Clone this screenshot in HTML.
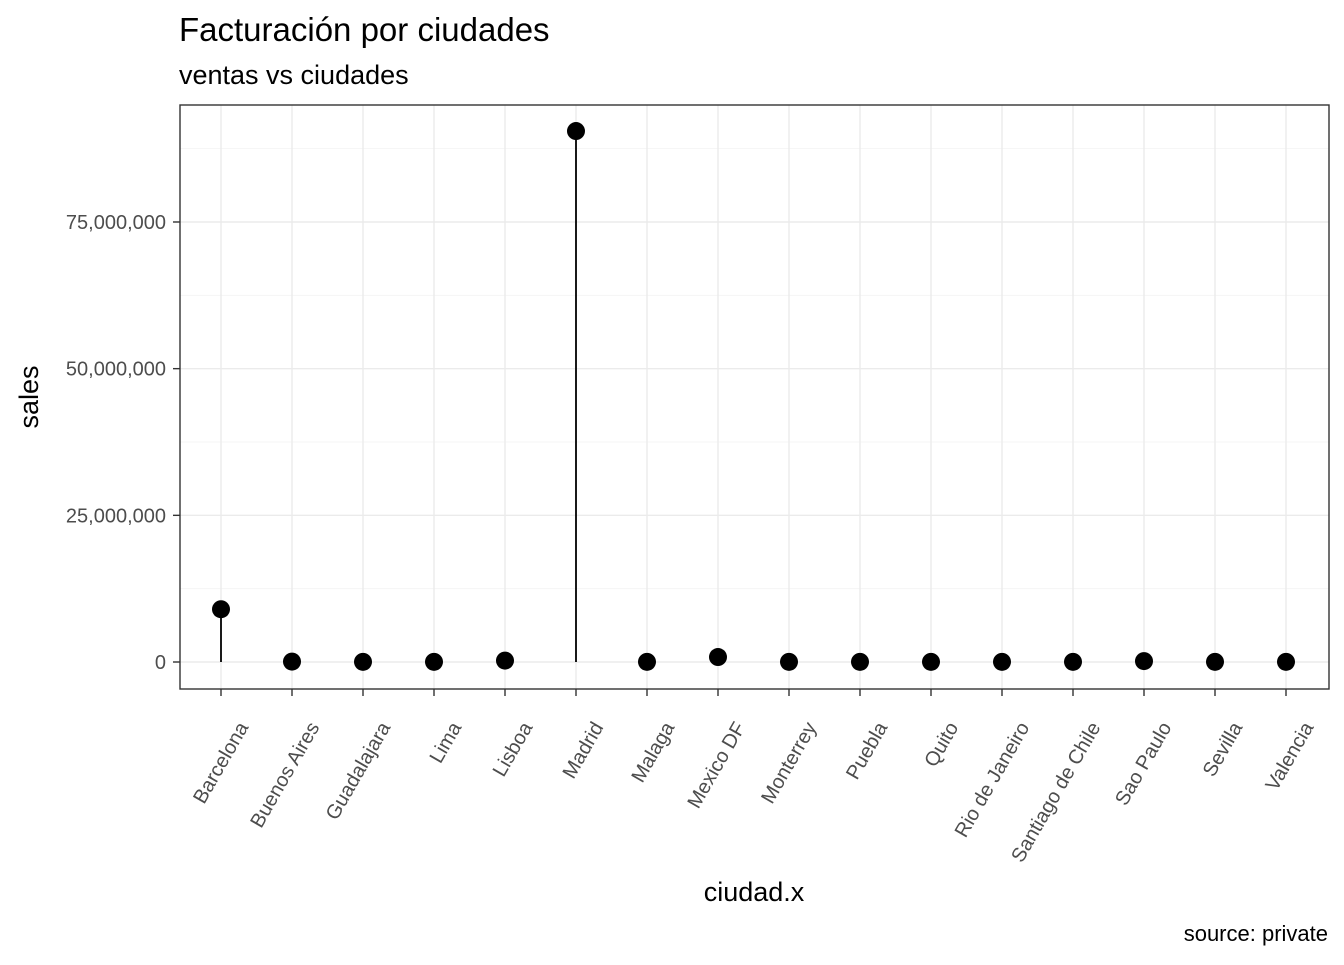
<!DOCTYPE html>
<html><head><meta charset="utf-8"><style>
body{margin:0;background:#fff}
svg{font-family:"Liberation Sans",Arial,sans-serif}
</style></head><body>
<svg width="1344" height="960" viewBox="0 0 1344 960">
<rect width="1344" height="960" fill="#fff"/>
<text x="179" y="41" font-size="33" fill="#000">Facturación por ciudades</text>
<text x="179" y="84" font-size="27" fill="#000">ventas vs ciudades</text>
<g id="grid"></g>
<g id="yaxis"></g>
<g id="xaxis"></g>
<g id="marks"></g>
<rect x="180" y="105" width="1149" height="584" fill="none" stroke="#333" stroke-width="1.4"/>
<text x="754" y="901" font-size="27" text-anchor="middle" fill="#000">ciudad.x</text>
<text transform="translate(38,397) rotate(-90)" font-size="27" text-anchor="middle" fill="#000">sales</text>
<text x="1328" y="941" font-size="22" text-anchor="end" fill="#000">source: private</text>
</svg>
<script>
const categories=["Barcelona","Buenos Aires","Guadalajara","Lima","Lisboa","Madrid","Malaga","Mexico DF","Monterrey","Puebla","Quito","Rio de Janeiro","Santiago de Chile","Sao Paulo","Sevilla","Valencia"];
const sales=[9000000,70000,30000,30000,240000,90500000,30000,850000,30000,30000,30000,30000,30000,150000,30000,30000];
const yTicks=[0,25000000,50000000,75000000];
const yTickLabels=["0","25,000,000","50,000,000","75,000,000"];
const NS="http://www.w3.org/2000/svg";
const x=i=>221+i*71;
const y=v=>662-v*(146.67/25000000);
function mk(tag,attrs,parent){const e=document.createElementNS(NS,tag);for(const k in attrs)e.setAttribute(k,attrs[k]);document.getElementById(parent).appendChild(e);return e;}
for(let i=0;i<yTicks.length;i++){
  const yy=y(yTicks[i]);
  const g=mk('line',{x1:180,x2:1329,y1:yy,y2:yy,stroke:'#ebebeb','stroke-width':1.4},'grid');
  
  
  const ym=y(yTicks[i]+12500000);
  const gm=mk('line',{x1:180,x2:1329,y1:ym,y2:ym,stroke:'#f3f3f3','stroke-width':0.8},'grid');
  
  
  const t=mk('line',{x1:173,x2:180,y1:yy,y2:yy,stroke:'#333','stroke-width':1.4},'yaxis');
  
  
  const l=mk('text',{x:166,y:yy+7,'font-size':20,'text-anchor':'end',fill:'#4d4d4d'},'yaxis');
  l.textContent=yTickLabels[i];
  
  
}
for(let i=0;i<categories.length;i++){
  const xx=x(i);
  const g=mk('line',{x1:xx,x2:xx,y1:105,y2:689,stroke:'#ebebeb','stroke-width':1.4},'grid');
  
  
  const t=mk('line',{x1:xx,x2:xx,y1:689,y2:696,stroke:'#333','stroke-width':1.4},'xaxis');
  
  
  const l=mk('text',{transform:`translate(${xx+28},${727}) rotate(-60)`,'font-size':20,'text-anchor':'end',fill:'#4d4d4d'},'xaxis');
  l.textContent=categories[i];
  
  
  const s=mk('line',{x1:xx,x2:xx,y1:y(0),y2:y(sales[i]),stroke:'#000','stroke-width':1.8},'marks');
  
  
  const c=mk('circle',{cx:xx,cy:y(sales[i]),r:9,fill:'#000'},'marks');
  
  
}
</script>
</body></html>
